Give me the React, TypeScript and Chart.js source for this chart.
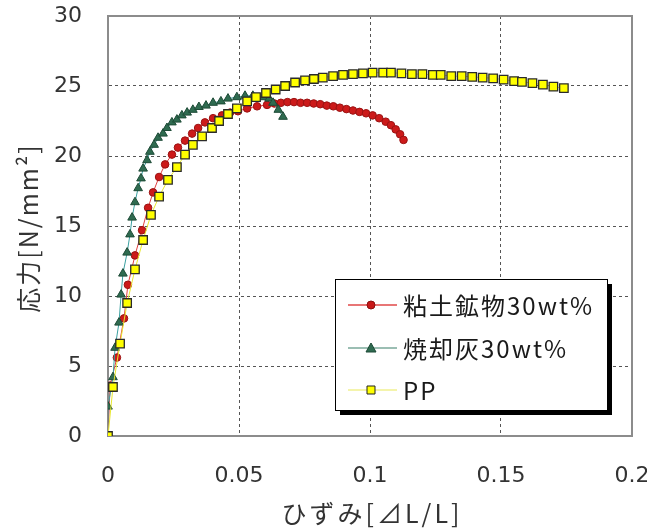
import React, { useEffect, useRef } from 'react';
import { Chart, registerables } from 'chart.js';

Chart.register(...registerables);

const X_TICKS = [0, 0.05, 0.1, 0.15, 0.2];
const Y_TICKS = [0, 5, 10, 15, 20, 25, 30];
const X_TITLE = 'ひずみ[⊿L/L]';
const Y_TITLE = '応力[N/mm²]';
const SERIES_NAMES = ['粘土鉱物30wt%', '焼却灰30wt%', 'PP'];

const CLAY_X = [0, 0.0008, 0.0034, 0.0061, 0.0076, 0.0103, 0.013, 0.0153, 0.0172, 0.0195, 0.0218, 0.0244, 0.0267, 0.0294, 0.0321, 0.0344, 0.037, 0.0401, 0.0435, 0.0466, 0.0496, 0.0531, 0.0569, 0.0607, 0.0635, 0.066, 0.0685, 0.071, 0.0735, 0.076, 0.0785, 0.081, 0.0835, 0.086, 0.0885, 0.091, 0.0935, 0.096, 0.0985, 0.101, 0.1035, 0.106, 0.108, 0.1098, 0.1115, 0.1128];
const CLAY_Y = [0, 3.6, 5.6, 8.4, 10.8, 12.9, 14.7, 16.3, 17.4, 18.5, 19.4, 20.1, 20.6, 21.1, 21.6, 22.0, 22.4, 22.7, 22.9, 23.1, 23.2, 23.4, 23.55, 23.65, 23.75, 23.8, 23.85, 23.85, 23.8, 23.8, 23.75, 23.7, 23.6, 23.55, 23.45, 23.35, 23.25, 23.15, 23.05, 22.9, 22.7, 22.45, 22.2, 21.9, 21.55, 21.15];

const ASH_X = [0, 0, 0.0019, 0.0027, 0.0042, 0.005, 0.0057, 0.0073, 0.0084, 0.0092, 0.0103, 0.0115, 0.0126, 0.0134, 0.0149, 0.016, 0.0176, 0.0191, 0.021, 0.0225, 0.0244, 0.0263, 0.0282, 0.0302, 0.0324, 0.0347, 0.0374, 0.0401, 0.0431, 0.0458, 0.0492, 0.0523, 0.0553, 0.0592, 0.0615, 0.063, 0.065, 0.0668];
const ASH_Y = [0, 2.1, 4.2, 6.3, 8.1, 10.1, 11.6, 13.1, 14.4, 15.6, 16.7, 17.7, 18.4, 19.1, 19.7, 20.3, 20.8, 21.3, 21.6, 22.0, 22.4, 22.6, 22.9, 23.1, 23.3, 23.5, 23.6, 23.8, 23.9, 24.1, 24.2, 24.3, 24.3, 24.2, 24.1, 23.8, 23.3, 22.8];

const PP_X = [0, 0.0019, 0.0046, 0.0073, 0.0103, 0.0134, 0.0164, 0.0195, 0.0229, 0.0263, 0.0294, 0.0324, 0.0359, 0.0397, 0.0424, 0.0458, 0.0492, 0.0531, 0.0565, 0.0603, 0.064, 0.0676, 0.0714, 0.0752, 0.0786, 0.082, 0.0859, 0.0897, 0.0935, 0.0973, 0.101, 0.105, 0.108, 0.112, 0.116, 0.12, 0.124, 0.127, 0.131, 0.135, 0.139, 0.143, 0.147, 0.151, 0.155, 0.158, 0.162, 0.166, 0.17, 0.174];
const PP_Y = [0, 3.5, 6.6, 9.5, 11.9, 14.0, 15.8, 17.1, 18.3, 19.2, 20.1, 20.8, 21.4, 22.0, 22.5, 23.0, 23.4, 23.9, 24.2, 24.5, 24.75, 25.0, 25.25, 25.4, 25.5, 25.6, 25.7, 25.8, 25.85, 25.9, 25.95, 25.95, 25.95, 25.9, 25.85, 25.85, 25.8, 25.8, 25.7, 25.7, 25.65, 25.6, 25.55, 25.45, 25.35, 25.3, 25.2, 25.1, 24.95, 24.85];

const toPoints = (xs: number[], ys: number[]) => xs.map((x, i) => ({ x, y: ys[i] }));

const TICK_FONT = { family: '"DejaVu Sans", sans-serif', size: 22 };
const TITLE_FONT_CSS = '25px "Noto Sans CJK JP", sans-serif';

const LEGEND_STYLES = [
  { line: '#e04848', marker: 'circle', fill: '#c81818', stroke: '#8a1010' },
  { line: '#7aa89a', marker: 'triangle', fill: '#2f6b50', stroke: '#1d4a36' },
  { line: '#f0f090', marker: 'rect', fill: '#ffff00', stroke: '#222222' },
];

function drawMarker(ctx: CanvasRenderingContext2D, kind: string, x: number, y: number, fill: string, stroke: string) {
  ctx.save();
  ctx.fillStyle = fill;
  ctx.strokeStyle = stroke;
  ctx.lineWidth = 1;
  ctx.beginPath();
  if (kind === 'circle') {
    ctx.arc(x, y, 4, 0, Math.PI * 2);
  } else if (kind === 'triangle') {
    ctx.moveTo(x, y - 5);
    ctx.lineTo(x + 5, y + 4);
    ctx.lineTo(x - 5, y + 4);
    ctx.closePath();
  } else {
    ctx.rect(x - 4, y - 4, 8, 8);
  }
  ctx.fill();
  ctx.stroke();
  ctx.restore();
}

const framePlugin = {
  id: 'frame',
  beforeDatasetsDraw(chart: any) {
    const { ctx, chartArea: a } = chart;
    ctx.save();
    ctx.strokeStyle = '#8c8c8c';
    ctx.lineWidth = 2;
    ctx.strokeRect(a.left, a.top, a.right - a.left, a.bottom - a.top);
    ctx.restore();
  },
};

const axisTitlePlugin = {
  id: 'axisTitles',
  afterDraw(chart: any) {
    const { ctx, chartArea: a } = chart;
    ctx.save();
    ctx.fillStyle = '#333';
    ctx.font = TITLE_FONT_CSS;
    ctx.textAlign = 'center';
    ctx.textBaseline = 'middle';
    (ctx as any).letterSpacing = '3px';
    ctx.fillText(X_TITLE, (a.left + a.right) / 2 + 2, 513);
    (ctx as any).letterSpacing = '2px';
    ctx.translate(28, (a.top + a.bottom) / 2 + 2);
    ctx.rotate(-Math.PI / 2);
    ctx.fillText(Y_TITLE, 0, 0);
    (ctx as any).letterSpacing = '0px';
    ctx.restore();
  },
};

const legendPlugin = {
  id: 'insideLegend',
  afterDraw(chart: any) {
    const { ctx, chartArea: a } = chart;
    const left = a.left + 227;
    const top = a.top + 263;
    const w = 272;
    const h = 131;
    ctx.save();
    ctx.fillStyle = '#000';
    ctx.fillRect(left + 5, top + 5, w, h);
    ctx.fillStyle = '#fff';
    ctx.fillRect(left, top, w, h);
    ctx.strokeStyle = '#000';
    ctx.lineWidth = 1;
    ctx.strokeRect(left + 0.5, top + 0.5, w, h);
    const rows = [26, 69, 111];
    SERIES_NAMES.forEach((name, i) => {
      const st = LEGEND_STYLES[i];
      const y = top + rows[i];
      ctx.strokeStyle = st.line;
      ctx.lineWidth = 1.5;
      ctx.beginPath();
      ctx.moveTo(left + 13, y);
      ctx.lineTo(left + 62, y);
      ctx.stroke();
      drawMarker(ctx, st.marker, left + 36, y, st.fill, st.stroke);
      ctx.fillStyle = '#1a1a1a';
      ctx.font = '24px "Noto Sans CJK JP", sans-serif';
      (ctx as any).letterSpacing = '2px';
      ctx.textAlign = 'left';
      ctx.textBaseline = 'middle';
      ctx.fillText(name, left + 68, y + 1);
      (ctx as any).letterSpacing = '0px';
    });
    ctx.restore();
  },
};

export default function App() {
  const ref = useRef<HTMLCanvasElement | null>(null);
  useEffect(() => {
    if (!ref.current) return;
    const chart = new Chart(ref.current, {
      type: 'scatter',
      data: {
        datasets: [
          {
            label: SERIES_NAMES[0],
            data: toPoints(CLAY_X, CLAY_Y),
            showLine: true,
            borderColor: '#e04040',
            borderWidth: 1,
            pointStyle: 'circle',
            pointRadius: 3.8,
            pointBackgroundColor: '#cc1a1a',
            pointBorderColor: '#9a1212',
            pointBorderWidth: 1,
            order: 3,
          },
          {
            label: SERIES_NAMES[1],
            data: toPoints(ASH_X, ASH_Y),
            showLine: true,
            borderColor: '#3aa0a0',
            borderWidth: 1,
            pointStyle: 'triangle',
            pointRadius: 5,
            pointBackgroundColor: '#2f6b50',
            pointBorderColor: '#1d4a36',
            pointBorderWidth: 1,
            order: 2,
          },
          {
            label: SERIES_NAMES[2],
            data: toPoints(PP_X, PP_Y),
            showLine: true,
            borderColor: '#e8e830',
            borderWidth: 1,
            pointStyle: 'rect',
            pointRadius: 6,
            pointBackgroundColor: '#ffff00',
            pointBorderColor: '#2a2a2a',
            pointBorderWidth: 1.3,
            order: 1,
          },
        ],
      },
      options: {
        responsive: false,
        animation: false,
        devicePixelRatio: 1,
        layout: { padding: { top: 16, right: 15, left: 0, bottom: 0 } },
        plugins: {
          legend: { display: false },
          tooltip: { enabled: false },
        },
        scales: {
          x: {
            type: 'linear',
            min: 0,
            max: 0.2,
            afterBuildTicks: (s: any) => {
              s.ticks = X_TICKS.map((v) => ({ value: v }));
            },
            afterFit: (s: any) => {
              s.height = 94;
              s.paddingLeft = 0;
              s.paddingRight = 0;
            },
            ticks: {
              font: TICK_FONT,
              color: '#333',
              padding: 27,
              maxRotation: 0,
              autoSkip: false,
              callback: (v: any) => String(Number(Number(v).toFixed(2))),
            },
            grid: { color: '#555', lineWidth: 1, drawTicks: false },
            border: { display: true, color: '#8c8c8c', width: 2, dash: [3, 3] },
            title: { display: false },
          },
          y: {
            type: 'linear',
            min: 0,
            max: 30,
            afterBuildTicks: (s: any) => {
              s.ticks = Y_TICKS.map((v) => ({ value: v }));
            },
            afterFit: (s: any) => {
              s.width = 108;
              s.paddingTop = 0;
              s.paddingBottom = 0;
            },
            ticks: {
              font: TICK_FONT,
              color: '#333',
              padding: 26,
              autoSkip: false,
            },
            grid: { color: '#555', lineWidth: 1, drawTicks: false },
            border: { display: true, color: '#8c8c8c', width: 2, dash: [3, 3] },
            title: { display: false },
          },
        },
      },
      plugins: [framePlugin, legendPlugin, axisTitlePlugin],
    } as any);
    return () => chart.destroy();
  }, []);
  return (
    <div style={{ position: 'absolute', left: 0, top: 0, width: 647, height: 530, background: '#fff' }}>
      <canvas ref={ref} width={647} height={530} style={{ display: 'block', width: 647, height: 530 }} />
    </div>
  );
}
